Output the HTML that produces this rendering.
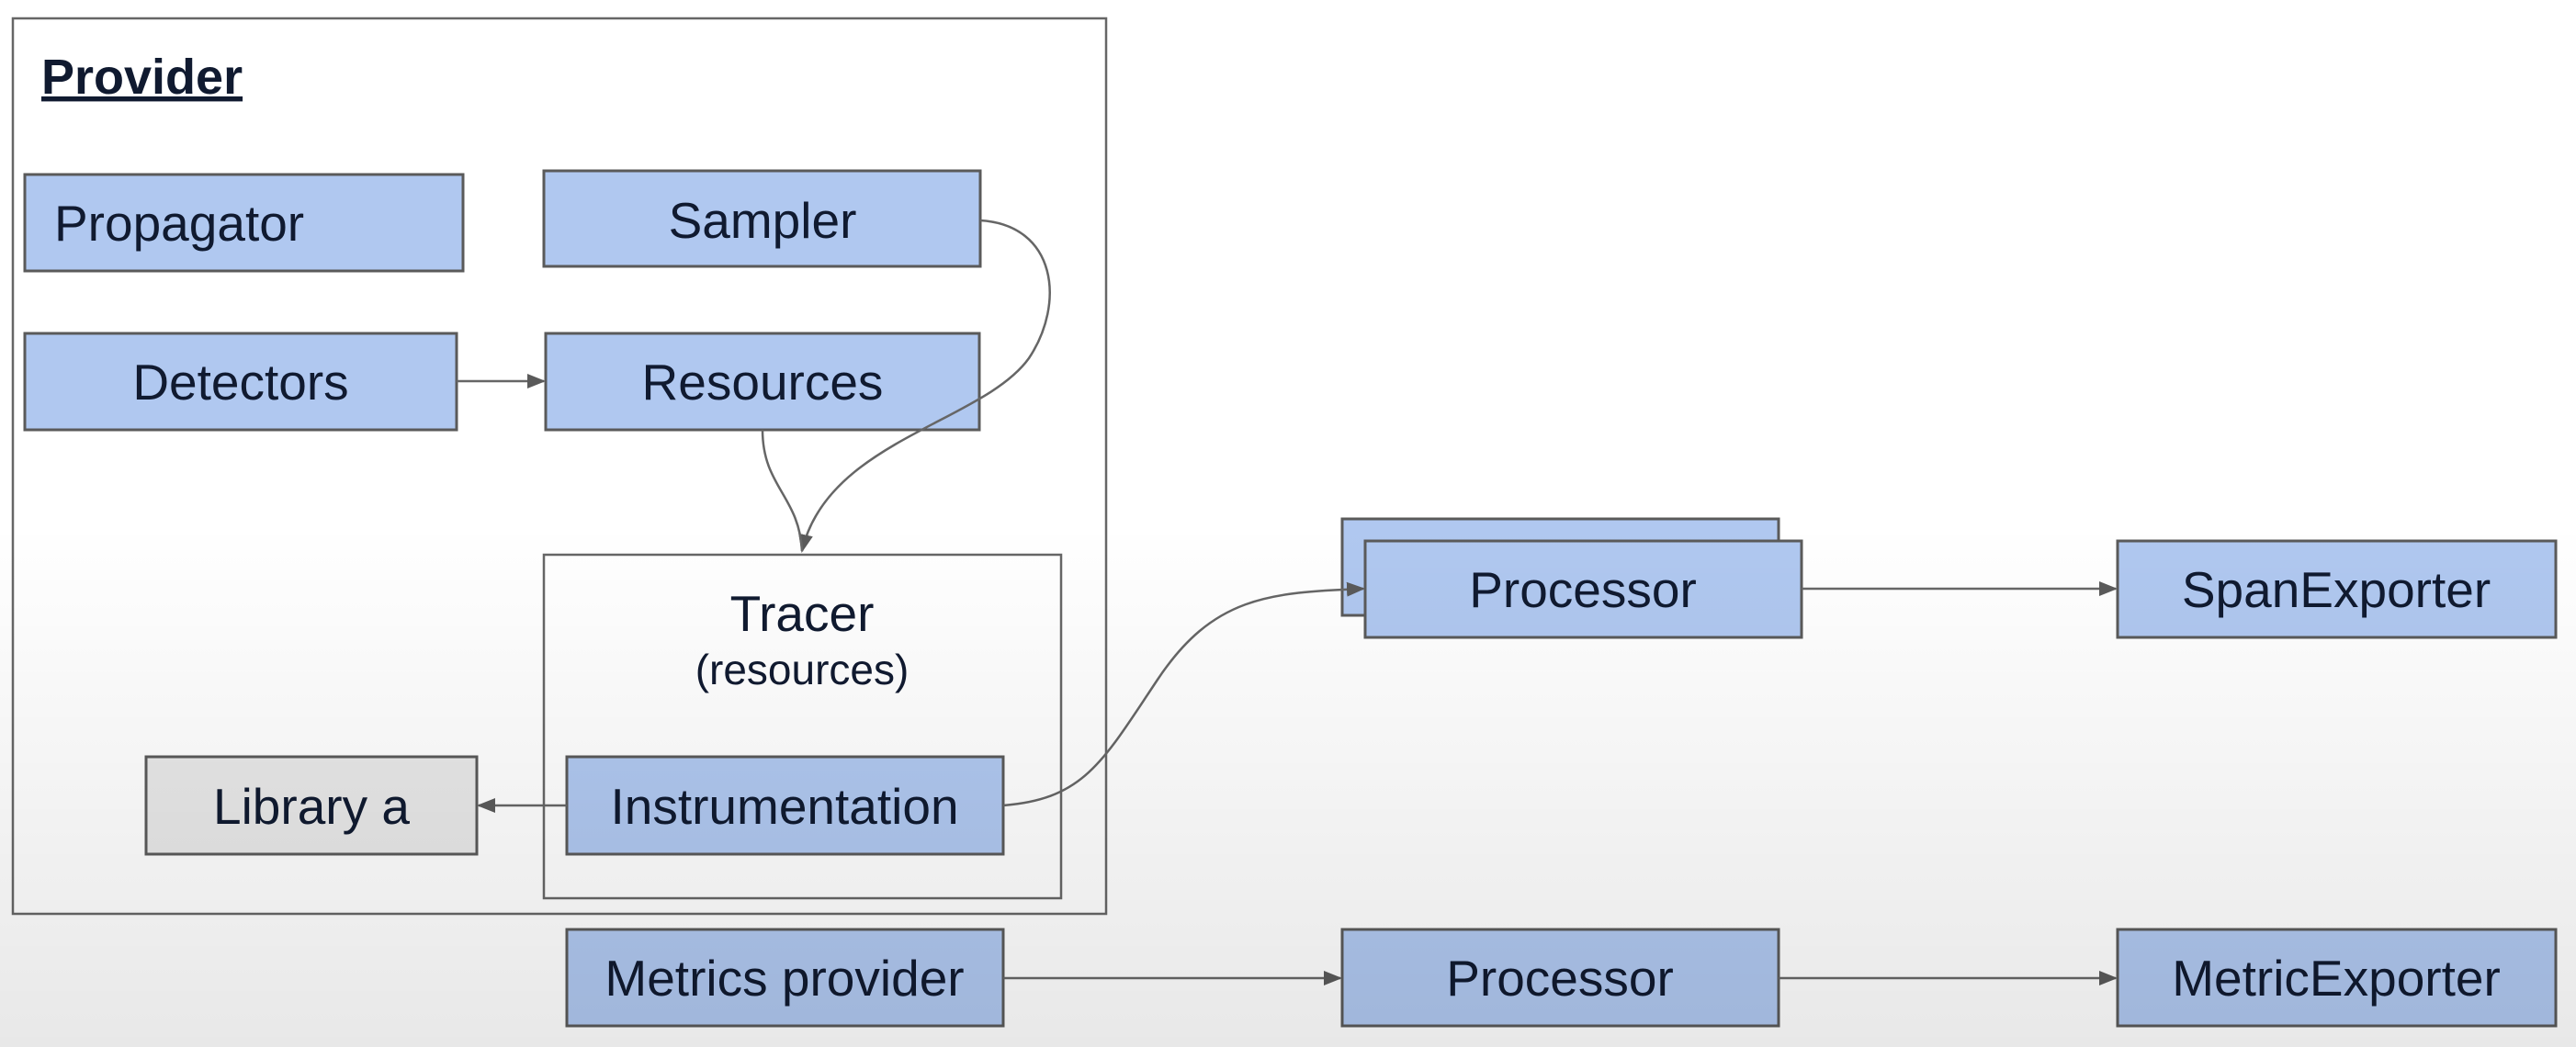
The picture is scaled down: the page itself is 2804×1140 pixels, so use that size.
<!DOCTYPE html>
<html><head><meta charset="utf-8"><style>
html,body{margin:0;padding:0;background:#fff}
svg{display:block}
text{font-family:"Liberation Sans",Arial,sans-serif;fill:#101a30}
</style></head><body>
<svg width="2804" height="1140" viewBox="0 0 2804 1140" xmlns="http://www.w3.org/2000/svg">
<defs>
<linearGradient id="bg" x1="0" y1="0" x2="0" y2="1">
<stop offset="0" stop-color="#000" stop-opacity="0"/>
<stop offset="0.5" stop-color="#000" stop-opacity="0"/>
<stop offset="1" stop-color="#000" stop-opacity="0.09"/>
</linearGradient>
<marker id="ah2" markerWidth="20" markerHeight="16" refX="18" refY="8" orient="auto" markerUnits="userSpaceOnUse">
<path d="M0,0 L20,8 L0,16 z" fill="#5a5a5a"/>
</marker>
</defs>
<rect width="2804" height="1140" fill="#fff"/>
<g stroke="#666" stroke-width="2.5" fill="none">
<rect x="14" y="20" width="1190" height="975"/>
<rect x="592" y="604" width="563" height="374"/>
</g>
<text x="45" y="102" font-size="54" font-weight="bold" text-decoration="underline">Provider</text>
<g stroke="#5a5a5a" stroke-width="3" fill="#b0c8f0">
<rect x="27" y="190" width="477" height="105"/>
<rect x="592" y="186" width="475" height="104"/>
<rect x="27" y="363" width="470" height="105"/>
<rect x="594" y="363" width="472" height="105"/>
<rect x="617" y="824" width="475" height="106"/>
<rect x="1461" y="565" width="475" height="105"/>
<rect x="1486" y="589" width="475" height="105"/>
<rect x="2305" y="589" width="477" height="105"/>
<rect x="617" y="1012" width="475" height="105"/>
<rect x="1461" y="1012" width="475" height="105"/>
<rect x="2305" y="1012" width="477" height="105"/>
<rect x="159" y="824" width="360" height="106" fill="#e8e8e8"/>
</g>
<g font-size="55" text-anchor="middle">
<text x="59" y="262" text-anchor="start">Propagator</text>
<text x="830" y="259">Sampler</text>
<text x="262" y="435">Detectors</text>
<text x="830" y="435">Resources</text>
<text x="873" y="687">Tracer</text>
<text x="873" y="745" font-size="46">(resources)</text>
<text x="854" y="897">Instrumentation</text>
<text x="339" y="897">Library a</text>
<text x="1723" y="661">Processor</text>
<text x="2543" y="661">SpanExporter</text>
<text x="854" y="1084">Metrics provider</text>
<text x="1698" y="1084">Processor</text>
<text x="2543" y="1084">MetricExporter</text>
</g>
<g stroke="#666" stroke-width="2.5" fill="none">
<path d="M497,415 L592,415" marker-end="url(#ah2)"/>
<path d="M617,877 L521,877" marker-end="url(#ah2)"/>
<path d="M1067,240 C1150,245 1160,330 1120,390 C1070,460 900,480 873,600" marker-end="url(#ah2)"/>
<path d="M830,468 C830,530 870,540 873,600"/>
<path d="M1092,877 C1180,870 1200,830 1260,740 C1320,650 1380,645 1484,641" marker-end="url(#ah2)"/>
<path d="M1961,641 L2303,641" marker-end="url(#ah2)"/>
<path d="M1092,1065 L1459,1065" marker-end="url(#ah2)"/>
<path d="M1936,1065 L2303,1065" marker-end="url(#ah2)"/>
</g>
<rect width="2804" height="1140" fill="url(#bg)"/>
</svg>
</body></html>
